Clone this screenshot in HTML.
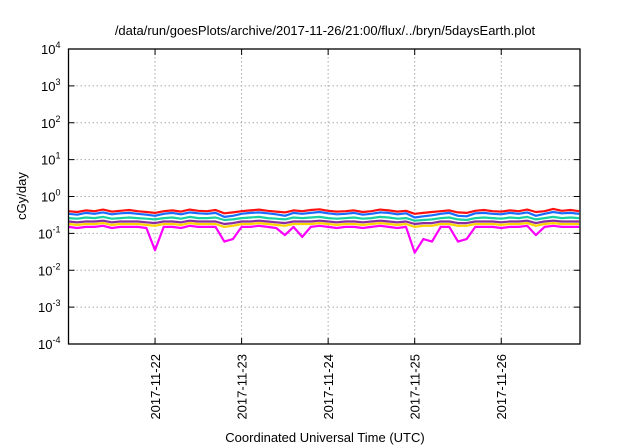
<!DOCTYPE html>
<html><head><meta charset="utf-8"><style>
body{margin:0;background:#fff}
svg{display:block;font-family:"Liberation Sans",sans-serif}
</style></head><body>
<svg id="chart" width="640" height="448" viewBox="0 0 640 448">
<text x="325" y="35" text-anchor="middle" font-size="13">/data/run/goesPlots/archive/2017-11-26/21:00/flux/../bryn/5daysEarth.plot</text>
<text transform="translate(26,196) rotate(-90)" text-anchor="middle" font-size="13">cGy/day</text>
<text x="325" y="442" text-anchor="middle" font-size="13">Coordinated Universal Time (UTC)</text>
<g id="grid"></g><g id="series"></g><g id="axes"></g>
</svg>
<script>
const xTickDays=[22,23,24,25,26];
const xTickLabels=["2017-11-22","2017-11-23","2017-11-24","2017-11-25","2017-11-26"];
const yTickExps=[4,3,2,1,0,-1,-2,-3,-4];
const startDay=21.0, stepDay=0.1;
const red=[0.40,0.38,0.42,0.40,0.44,0.39,0.41,0.43,0.40,0.38,0.36,0.40,0.42,0.39,0.44,0.41,0.40,0.43,0.35,0.37,0.40,0.42,0.44,0.41,0.39,0.37,0.42,0.40,0.43,0.45,0.41,0.39,0.40,0.42,0.38,0.40,0.44,0.42,0.39,0.41,0.34,0.36,0.38,0.40,0.42,0.37,0.36,0.41,0.43,0.40,0.39,0.42,0.40,0.44,0.38,0.40,0.46,0.41,0.43,0.40];
const blue=[0.34,0.32,0.36,0.34,0.37,0.33,0.35,0.36,0.34,0.32,0.30,0.34,0.36,0.33,0.37,0.35,0.34,0.36,0.28,0.30,0.34,0.36,0.37,0.35,0.33,0.30,0.36,0.34,0.36,0.38,0.35,0.33,0.34,0.36,0.32,0.34,0.37,0.36,0.33,0.35,0.27,0.29,0.31,0.34,0.36,0.30,0.29,0.35,0.36,0.34,0.33,0.36,0.34,0.37,0.30,0.34,0.38,0.35,0.36,0.34];
const teal=[0.26,0.25,0.27,0.26,0.28,0.25,0.26,0.27,0.26,0.25,0.24,0.26,0.27,0.25,0.28,0.26,0.26,0.27,0.23,0.24,0.26,0.27,0.28,0.26,0.25,0.24,0.27,0.26,0.27,0.28,0.26,0.25,0.26,0.27,0.25,0.26,0.28,0.27,0.25,0.26,0.22,0.23,0.24,0.26,0.27,0.24,0.23,0.26,0.27,0.26,0.25,0.27,0.26,0.28,0.24,0.26,0.28,0.26,0.27,0.26];
const purple=[0.21,0.20,0.21,0.21,0.22,0.20,0.21,0.21,0.21,0.20,0.19,0.21,0.21,0.20,0.22,0.21,0.21,0.21,0.18,0.19,0.21,0.21,0.22,0.21,0.20,0.19,0.21,0.21,0.21,0.22,0.21,0.20,0.21,0.21,0.20,0.21,0.22,0.21,0.20,0.21,0.18,0.19,0.19,0.21,0.21,0.19,0.19,0.21,0.21,0.21,0.20,0.21,0.21,0.22,0.19,0.21,0.22,0.21,0.21,0.21];
const yellow=[0.18,0.17,0.18,0.18,0.19,0.17,0.18,0.18,0.18,0.17,0.16,0.18,0.18,0.17,0.19,0.18,0.18,0.18,0.15,0.16,0.18,0.18,0.19,0.18,0.17,0.16,0.18,0.18,0.18,0.19,0.18,0.17,0.18,0.18,0.17,0.18,0.19,0.18,0.17,0.18,0.15,0.16,0.16,0.18,0.18,0.16,0.16,0.18,0.18,0.18,0.17,0.18,0.18,0.19,0.16,0.18,0.19,0.18,0.18,0.18];
const magenta=[0.15,0.14,0.15,0.15,0.16,0.14,0.15,0.15,0.15,0.14,0.035,0.15,0.15,0.14,0.16,0.15,0.15,0.15,0.06,0.07,0.15,0.15,0.16,0.15,0.14,0.09,0.15,0.08,0.15,0.16,0.15,0.14,0.15,0.15,0.14,0.15,0.16,0.15,0.14,0.15,0.03,0.07,0.06,0.15,0.15,0.06,0.07,0.15,0.15,0.15,0.14,0.15,0.15,0.16,0.09,0.15,0.16,0.15,0.15,0.15];
const seriesList=[["magenta",magenta,"#ff00ff"],["yellow",yellow,"#ffd400"],["purple",purple,"#8a2da0"],["teal",teal,"#18d0a0"],["red",red,"#ff1010"],["blue",blue,"#1a6cff"]];
const L=68.5,R=580,T=49,B=344,X0=21.0,X1=26.91;
const NS="http://www.w3.org/2000/svg";
function xs(d){return L+(d-X0)/(X1-X0)*(R-L);}
function ys(v){return T+(4-Math.log10(v))/8*(B-T);}
function mk(tag,attrs,parent){const e=document.createElementNS(NS,tag);for(const k in attrs)e.setAttribute(k,attrs[k]);parent.appendChild(e);return e;}
const grid=document.getElementById('grid'),axes=document.getElementById('axes'),sg=document.getElementById('series');
yTickExps.forEach(p=>{const y=ys(Math.pow(10,p));
 if(p<4&&p>-4){const g=mk('line',{x1:L,x2:R,y1:y,y2:y,stroke:'#aaa','stroke-dasharray':'1.5,2.5','stroke-width':1},grid);
 
 }
 const t1=mk('line',{x1:L,x2:L+6,y1:y,y2:y,stroke:'#000'},axes);
 
 
 const t2=mk('line',{x1:R-6,x2:R,y1:y,y2:y,stroke:'#000'},axes);
 
 
 const tx=mk('text',{x:L-8,y:y+5,'text-anchor':'end','font-size':13},axes);
 
 
 tx.textContent='10';
 const sp=mk('tspan',{dy:-6,'font-size':9},tx);sp.textContent=String(p);
});
xTickDays.forEach((d,i)=>{const x=xs(d);
 const g=mk('line',{x1:x,x2:x,y1:T,y2:B,stroke:'#aaa','stroke-dasharray':'1.5,2.5','stroke-width':1},grid);
 
 
 const t1=mk('line',{x1:x,x2:x,y1:B-6,y2:B,stroke:'#000'},axes);
 
 
 const t2=mk('line',{x1:x,x2:x,y1:T,y2:T+6,stroke:'#000'},axes);
 
 
 const tx=mk('text',{transform:`translate(${x+5},${B+10}) rotate(-90)`,'text-anchor':'end','font-size':13},axes);
 
 
 tx.textContent=xTickLabels[i];
});
const frame=mk('rect',{x:L,y:T,width:R-L,height:B-T,fill:'none',stroke:'#000','stroke-width':1.3},axes);


seriesList.forEach(([n,arr,c])=>{
 const pts=arr.map((v,i)=>xs(startDay+i*stepDay).toFixed(1)+','+ys(v).toFixed(1)).join(' ');
 const pl=mk('polyline',{points:pts,fill:'none',stroke:c,'stroke-width':2.2,'stroke-linejoin':'round'},sg);
 
 
});
</script>
</body></html>
